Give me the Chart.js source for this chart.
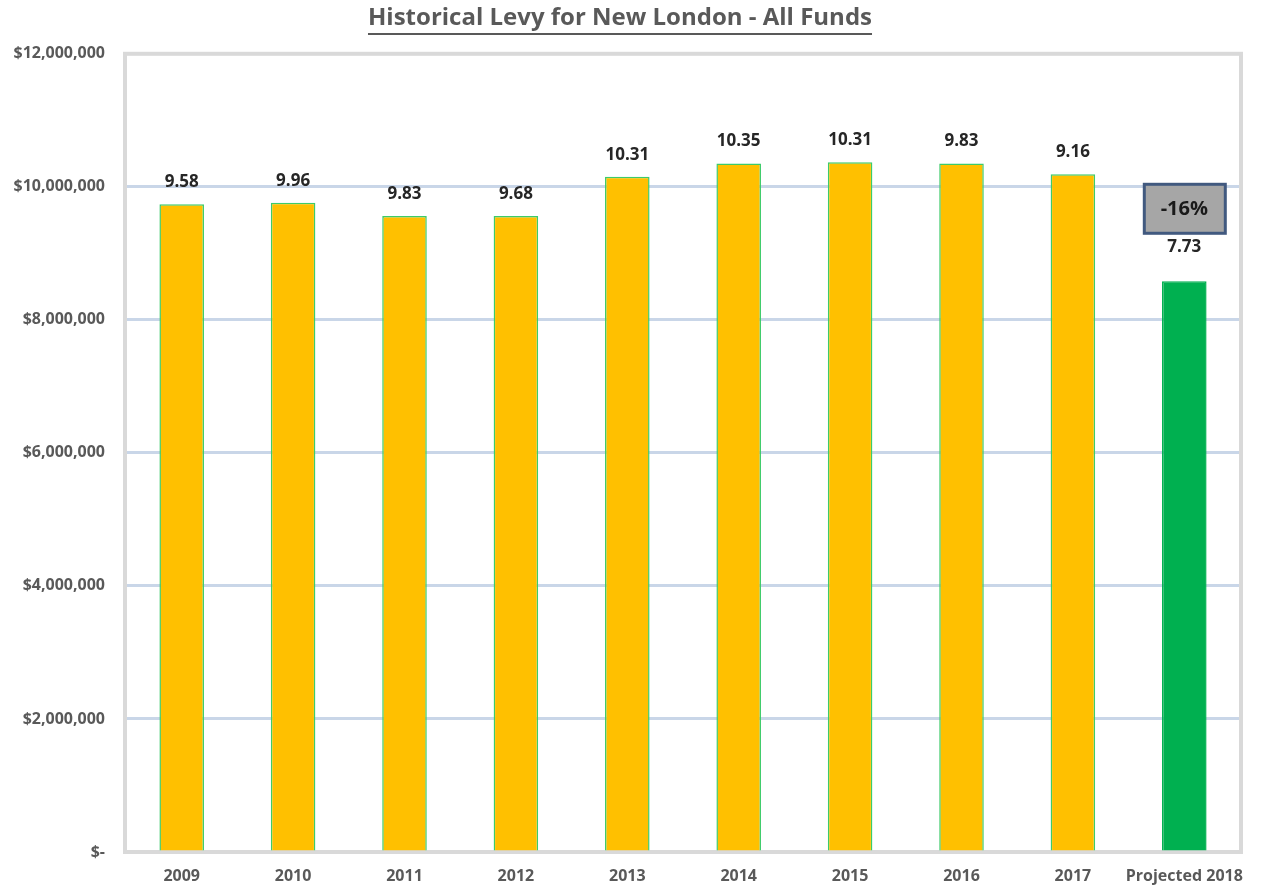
<!DOCTYPE html>
<html>
<head>
<meta charset="utf-8">
<script src="https://cdn.jsdelivr.net/npm/chart.js@4.4.1/dist/chart.umd.min.js"></script>
<style>
  html, body { margin: 0; padding: 0; background: #fff; }
  #wrap { width: 1261px; height: 888px; }
</style>
</head>
<body>
<div id="wrap"><canvas id="myChart"></canvas></div>
<script>
const years = ['2009', '2010', '2011', '2012', '2013', '2014', '2015', '2016', '2017', 'Projected 2018']
const levy = [9740000, 9760000, 9560000, 9560000, 10150000, 10350000, 10370000, 10350000, 10190000, 8580000]
// labels as printed on the original chart (millions)
const levyLabels = ['9.58', '9.96', '9.83', '9.68', '10.31', '10.35', '10.31', '9.83', '9.16', '7.73']
const changeNote = '-16%'

const barColors = levy.map((v, i) => i === levy.length - 1 ? '#00B050' : '#FFC000')
const barBorders = levy.map((v, i) => i === levy.length - 1 ? '#00B050' : '#3DCB6A')

const ctx = document.getElementById('myChart')

// plot frame + underline of the title
const frame = {
  id: 'frame',
  beforeDatasetsDraw(chart) {
    const a = chart.chartArea
    const c = chart.ctx
    c.save()
    c.strokeStyle = '#D9D9D9'
    c.lineWidth = 4
    c.strokeRect(a.left - 1, a.top, a.right - a.left + 2, a.bottom - a.top)
    c.restore()
  },
  afterDraw(chart) {
    const c = chart.ctx
    const t = chart.titleBlock
    c.save()
    c.font = 'bold 24px "Open Sans"'
    const w = c.measureText(chart.options.plugins.title.text).width
    const cx = (t.left + t.right) / 2
    c.strokeStyle = '#595959'
    c.lineWidth = 2
    c.beginPath()
    c.moveTo(cx - w / 2, 34)
    c.lineTo(cx + w / 2, 34)
    c.stroke()
    c.restore()
  }
}

// value labels above bars and the change box
const barLabels = {
  id: 'barLabels',
  afterDatasetsDraw(chart) {
    const c = chart.ctx
    const meta = chart.getDatasetMeta(0)
    c.save()
    c.font = 'bold 17px "Open Sans"'
    c.fillStyle = '#262626'
    c.textAlign = 'center'
    c.textBaseline = 'middle'
    meta.data.forEach((bar, i) => {
      const off = i === meta.data.length - 1 ? 34 : 22
      c.fillText(levyLabels[i], bar.x, bar.y - off)
    })
    const last = meta.data[meta.data.length - 1]
    const bx = last.x - 40, by = last.y - 97, bw = 81, bh = 49
    c.fillStyle = '#A6A6A6'
    c.fillRect(bx, by, bw, bh)
    c.strokeStyle = '#41597F'
    c.lineWidth = 3
    c.strokeRect(bx, by, bw, bh)
    c.fillStyle = '#1a1a1a'
    c.font = 'bold 20px "Open Sans"'
    c.fillText(changeNote, last.x, by + bh / 2 + 1)
    c.restore()
  }
}

const myChart = new Chart(ctx, {
  type: 'bar',
  data: {
    labels: years,
    datasets: [{
      data: levy,
      backgroundColor: barColors,
      borderColor: barBorders,
      borderWidth: 1.5,
      barPercentage: 0.8,
      categoryPercentage: 0.5
    }]
  },
  options: {
    responsive: true,
    maintainAspectRatio: false,
    animation: false,
    layout: { padding: { left: 0, right: 21, top: 0, bottom: 0 } },
    plugins: {
      legend: { display: false },
      tooltip: { enabled: false },
      title: {
        display: true,
        text: 'Historical Levy for New London - All Funds',
        color: '#595959',
        font: { family: 'Open Sans', size: 24, weight: 'bold' },
        padding: { top: 4, bottom: 21 }
      }
    },
    scales: {
      x: {
        grid: { display: false, drawTicks: false },
        border: { display: false },
        ticks: {
          color: '#595959',
          font: { family: 'Open Sans', size: 16, weight: 'bold' },
          padding: 15,
          maxRotation: 0,
          autoSkip: false
        },
        afterFit(scale) { scale.height = 36 }
      },
      y: {
        min: 0,
        max: 12000000,
        grid: { color: '#C9D6E8', lineWidth: 3, drawTicks: false },
        border: { display: false },
        ticks: {
          stepSize: 2000000,
          color: '#595959',
          font: { family: 'Open Sans', size: 16, weight: 'bold' },
          padding: 21,
          callback: v => v === 0 ? '$-' : '$' + v.toLocaleString('en-US')
        },
        afterFit(scale) { scale.width = 126 }
      }
    }
  },
  plugins: [frame, barLabels]
})
</script>
</body>
</html>
